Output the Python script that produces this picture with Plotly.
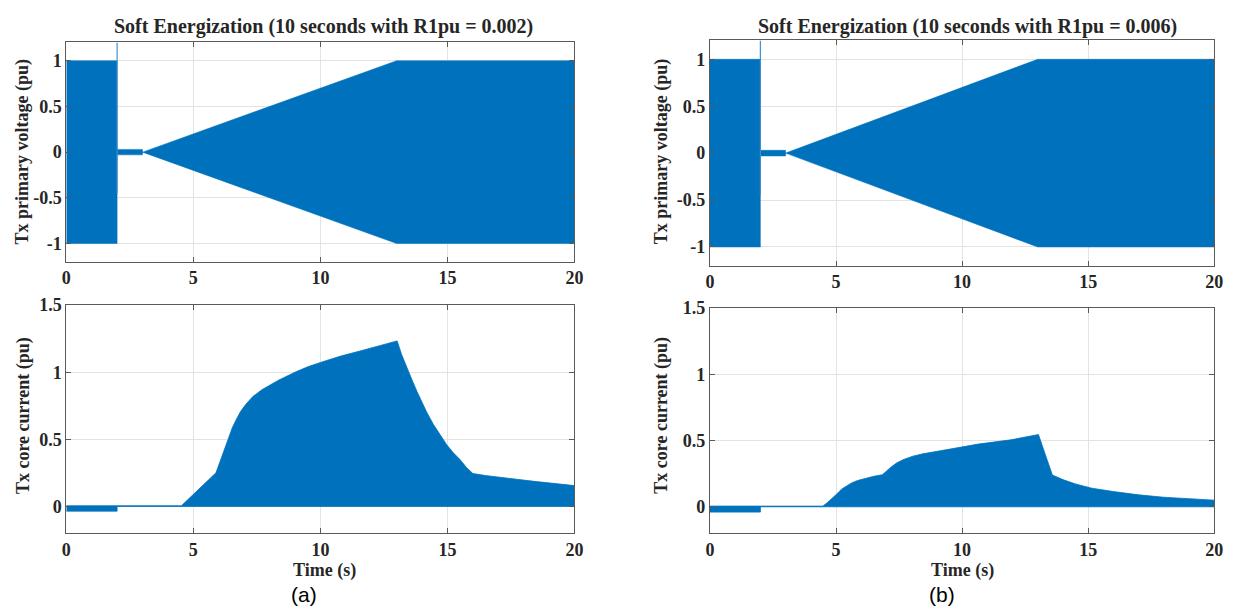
import plotly.graph_objects as go

# ---------------- data ----------------
# Primary voltage envelope (same in both cases): time breakpoints and upper envelope (lower = -upper)
volt_t = [0, 2, 2, 3, 3, 13, 20]
volt_upper = [1.0, 1.0, 0.03, 0.03, 0.0, 1.0, 1.0]
spike_t = [2, 2]
spike_v = [-0.45, 1.2]

# Core current envelope, case (a) R1pu = 0.002
cur_a_t = [0, 2, 2, 4.53, 5.89, 6.0, 6.15, 6.28, 6.41, 6.54, 6.67, 6.85, 7.06, 7.35, 7.7, 8.0, 8.35, 9.0, 9.5, 10.04,
           10.8, 11.6, 12.3, 13.02,
           13.2, 13.41, 13.6, 13.8, 14.0, 14.19, 14.45, 14.71, 14.97, 15.23, 15.49, 15.75, 16.0, 16.5, 17.5, 18.5, 20]
cur_a_up = [0.005, 0.005, 0.005, 0.005, 0.25, 0.31, 0.384, 0.46, 0.53, 0.59, 0.64, 0.705, 0.76, 0.82, 0.87, 0.905, 0.94, 1.0, 1.04, 1.075,
            1.12, 1.16, 1.195, 1.233,
            1.13, 1.04, 0.945, 0.857, 0.775, 0.70, 0.61, 0.53, 0.46, 0.40, 0.35, 0.29, 0.245, 0.23, 0.205, 0.185, 0.155]
cur_a_lo_t = [0, 2, 2, 20]
cur_a_lo = [-0.035, -0.035, 0.0, 0.0]

# Core current envelope, case (b) R1pu = 0.006
cur_b_t = [0, 2, 2, 4.48, 4.65, 4.85, 5.05, 5.23, 5.42, 5.62, 5.85, 6.13, 6.5, 6.84, 7.0, 7.16, 7.4, 7.68, 8.05, 8.45, 9.36, 10.64, 11.93, 13.03,
           13.58, 14.0, 14.5, 15.15, 16.0, 17.0, 18.0, 19.0, 20]
cur_b_up = [0.005, 0.005, 0.005, 0.005, 0.03, 0.062, 0.10, 0.135, 0.16, 0.18, 0.198, 0.214, 0.23, 0.242, 0.27, 0.296, 0.33, 0.357, 0.382, 0.40, 0.43, 0.473, 0.505, 0.545,
            0.24, 0.205, 0.172, 0.14, 0.115, 0.09, 0.072, 0.06, 0.05]
cur_b_lo_t = [0, 2, 2, 20]
cur_b_lo = [-0.04, -0.04, 0.0, 0.0]

titles = ["Soft Energization (10 seconds with R1pu = 0.002)",
          "Soft Energization (10 seconds with R1pu = 0.006)"]
panel_labels = ["(a)", "(b)"]
x_ticks = [0, 5, 10, 15, 20]
volt_ticks = [-1, -0.5, 0, 0.5, 1]
volt_ticktext = ["-1", "-0.5", "0", "0.5", "1"]
cur_ticks = [0, 0.5, 1, 1.5]
cur_ticktext = ["0", "0.5", "1", "1.5"]

# ---------------- styling ----------------
BLUE = "#0072BD"
SERIF = "Liberation Serif"
TXT = "#262626"
W, H = 1240, 610

x_dom = [[62 / W, 576 / W], [713 / W, 1223 / W]]
y_top = [[(H - 256) / H, (H - 33) / H], [(H - 260) / H, (H - 31) / H]]
y_bot = [[(H - 532) / H, (H - 300) / H], [(H - 532) / H, (H - 303) / H]]

fig = go.Figure()


def poly(xs_up, ys_up, xs_lo, ys_lo):
    xs = list(xs_up) + list(reversed(xs_lo))
    ys = list(ys_up) + list(reversed(ys_lo))
    return xs, ys


cases = [
    (cur_a_t, cur_a_up, cur_a_lo_t, cur_a_lo),
    (cur_b_t, cur_b_up, cur_b_lo_t, cur_b_lo),
]

for i in range(2):
    xa_top = "x" if i == 0 else "x2"
    ya_top = "y" if i == 0 else "y2"
    xa_bot = "x3" if i == 0 else "x4"
    ya_bot = "y3" if i == 0 else "y4"

    # voltage envelope
    vx, vy = poly(volt_t, volt_upper, volt_t, [-v for v in volt_upper])
    fig.add_trace(go.Scatter(x=vx, y=vy, fill="toself", fillcolor=BLUE, mode="lines",
                             line=dict(color=BLUE, width=0.5), xaxis=xa_top, yaxis=ya_top,
                             showlegend=False, hoverinfo="skip"))
    fig.add_trace(go.Scatter(x=spike_t, y=spike_v, mode="lines",
                             line=dict(color="#3d8fd0", width=1.2), xaxis=xa_top, yaxis=ya_top,
                             showlegend=False, hoverinfo="skip"))

    # core current envelope
    ct, cu, clt, cl = cases[i]
    cx, cy = poly(ct, cu, clt, cl)
    fig.add_trace(go.Scatter(x=cx, y=cy, fill="toself", fillcolor=BLUE, mode="lines",
                             line=dict(color=BLUE, width=0.8),
                             xaxis=xa_bot, yaxis=ya_bot, showlegend=False, hoverinfo="skip"))

axis_common = dict(
    showline=True, linecolor="#5a5a5a", linewidth=1, mirror="allticks",
    ticks="inside", ticklen=5, tickcolor="#5a5a5a",
    showgrid=True, gridcolor="#e3e3e3", gridwidth=1, zeroline=False,
    tickfont=dict(family=SERIF, size=18, color=TXT, weight="bold"),
)

layout = dict(
    width=W, height=H, margin=dict(l=0, r=0, t=0, b=0),
    paper_bgcolor="white", plot_bgcolor="white", showlegend=False,
)

for i in range(2):
    sfx_top = "" if i == 0 else "2"
    sfx_bot = "3" if i == 0 else "4"
    layout["xaxis" + sfx_top] = dict(axis_common, domain=x_dom[i], range=[0, 20], tickvals=x_ticks,
                                     anchor="y" + sfx_top)
    layout["yaxis" + sfx_top] = dict(axis_common, domain=y_top[i], range=[-1.2, 1.2], tickvals=volt_ticks,
                                     ticktext=volt_ticktext, anchor="x" + sfx_top)
    layout["xaxis" + sfx_bot] = dict(axis_common, domain=x_dom[i], range=[0, 20], tickvals=x_ticks,
                                     anchor="y" + sfx_bot)
    layout["yaxis" + sfx_bot] = dict(axis_common, domain=y_bot[i], range=[-0.2, 1.5], tickvals=cur_ticks,
                                     ticktext=cur_ticktext, anchor="x" + sfx_bot)

fig.update_layout(**layout)

title_font = dict(family=SERIF, size=20, color=TXT, weight="bold")
ann_font = dict(family=SERIF, size=18, color=TXT, weight="bold")
title_x = [322 / W, 973 / W]
time_x = [323 / W, 968 / W]
ylab_x = [18 / W, 664 / W]
for i in range(2):
    fig.add_annotation(text=titles[i], x=title_x[i], y=(H - 17) / H, xref="paper", yref="paper",
                       showarrow=False, font=title_font, xanchor="center", yanchor="middle")
    fig.add_annotation(text="Tx primary voltage (pu)", x=ylab_x[i], y=(H - 144) / H, xref="paper",
                       yref="paper", showarrow=False, font=ann_font, textangle=-90,
                       xanchor="center", yanchor="middle")
    fig.add_annotation(text="Tx core current (pu)", x=ylab_x[i], y=(H - 412) / H, xref="paper",
                       yref="paper", showarrow=False, font=ann_font, textangle=-90,
                       xanchor="center", yanchor="middle")
    fig.add_annotation(text="Time (s)", x=time_x[i], y=(H - 570) / H, xref="paper", yref="paper",
                       showarrow=False, font=ann_font, xanchor="center", yanchor="middle")

label_x = [302 / W, 948 / W]
for i in range(2):
    fig.add_annotation(text=panel_labels[i], x=label_x[i], y=(H - 594) / H, xref="paper", yref="paper",
                       showarrow=False, font=dict(family="Liberation Sans", size=21, color="black"),
                       xanchor="center", yanchor="middle")

fig.write_html("out.html", config={"displayModeBar": False},
               post_script="document.body.style.margin='0';document.body.style.overflow='hidden';")
